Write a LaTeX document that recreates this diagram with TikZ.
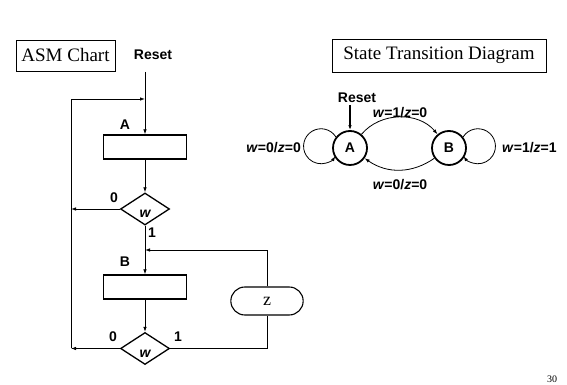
\documentclass[tikz,border=0pt]{standalone}
\usepackage{fontspec}
\setmainfont{Liberation Serif}
\setsansfont{Liberation Sans}
\usetikzlibrary{shapes.geometric, shapes.misc, arrows.meta, positioning}

\begin{document}
\begin{tikzpicture}[
    x=1pt, y=1pt,
    >={Latex[length=5pt,width=3.5pt]},
    titleBox/.style={
        draw, line width=0.9pt, inner sep=0pt,
        font=\fontsize{19}{22}\selectfont
    },
    stateBox/.style={draw, line width=1.3pt, minimum width=83pt, minimum height=24pt},
    condBox/.style={
        draw, diamond, line width=1.3pt, inner sep=0pt,
        minimum width=49pt, minimum height=32pt
    },
    outOval/.style={
        draw, rounded rectangle, line width=1.1pt,
        minimum width=79pt, minimum height=28pt,
        font=\fontsize{18}{20}\selectfont
    },
    stateCirc/.style={
        draw, circle, line width=1.8pt, minimum size=34pt, inner sep=0pt,
        font=\sffamily\bfseries\fontsize{14}{16}\selectfont
    },
    lbl/.style={font=\sffamily\bfseries\fontsize{14}{16}\selectfont, inner sep=0pt},
    condVar/.style={font=\sffamily\bfseries\itshape\fontsize{14}{16}\selectfont, inner sep=0pt},
    flow/.style={line width=0.8pt},
]
    \useasboundingbox (0,0) rectangle (567,385);

    \node[titleBox, minimum width=99pt, minimum height=31pt] (asmTitle) at (65.5,329.5) {ASM Chart};
    \node[lbl] (resetL) at (153,330) {Reset};
    \coordinate (topIn) at (145,313);
    \coordinate (leftTop) at (71,286);
    \coordinate (rightTop) at (145,286);
    \node[lbl] (labA) at (125,260) {A};
    \node[stateBox] (boxA) at (145,238) {};
    \node[condBox] (decA) at (145,176) {};
    \node[condVar] (wA) at ([yshift=-5pt]decA.center) {w};
    \node[lbl] (zeroA) at (114,187) {0};
    \node[lbl] (oneA) at (152,152) {1};
    \coordinate (leftMid) at (71,176);
    \coordinate (joinB) at (145,135);
    \node[lbl] (labB) at (125,123) {B};
    \node[stateBox] (boxB) at (145,98) {};
    \node[condBox] (decB) at (145,36.5) {};
    \node[condVar] (wB) at ([yshift=-5pt]decB.center) {w};
    \node[lbl] (zeroB) at (113,48) {0};
    \node[lbl] (oneB) at (178,48) {1};
    \coordinate (leftBot) at (71,36.5);
    \node[outOval] (zOut) at (267,84) {z};

    \draw[flow, ->] (topIn) -- (boxA.north);
    \draw[flow] (leftBot) -- (leftTop);
    \draw[flow, ->] (leftTop) -- (rightTop);
    \draw[flow, ->] (boxA) -- (decA);
    \draw[flow, ->] (decA.west) -- (leftMid);
    \draw[flow, ->] (decA.south) -- (boxB.north);
    \draw[flow, ->] (zOut.north) |- (joinB);
    \draw[flow] (decB.east) -| (zOut.south);
    \draw[flow, ->] (boxB) -- (decB);
    \draw[flow, ->] (decB.west) -- (leftBot);

    \node[titleBox, minimum width=214pt, minimum height=33pt] (stTitle) at (439,329.5) {State Transition Diagram};
    \node[lbl] (resetR) at (357,287) {Reset};
    \coordinate (resetIn) at (350,280);
    \node[stateCirc] (stA) at (350,237) {A};
    \node[stateCirc] (stB) at (449,237) {B};

    \draw[line width=1.2pt, ->] (resetIn) -- (stA);
    \draw[flow, ->] (stA) to[out=50, in=130] (stB);
    \draw[flow, ->] (stB) to[out=215, in=325] (stA);
    \draw[flow, ->] (stA.142) arc[start angle=32, end angle=325, radius=17.5pt];
    \draw[flow, ->] (stB.38) arc[start angle=148, end angle=-145, radius=17.5pt];

    \node[lbl, anchor=east] (lblLoopA) at (301,237) {\textit{w}=0/\textit{z}=0};
    \node[lbl] (lblAB) at (400,272) {\textit{w}=1/\textit{z}=0};
    \node[lbl] (lblBA) at (400,200) {\textit{w}=0/\textit{z}=0};
    \node[lbl, anchor=west] (lblLoopB) at (502,237) {\textit{w}=1/\textit{z}=1};

    \node[font=\fontsize{10}{12}\selectfont, inner sep=0pt] (pageNo) at (552,6) {30};
\end{tikzpicture}
\end{document}
